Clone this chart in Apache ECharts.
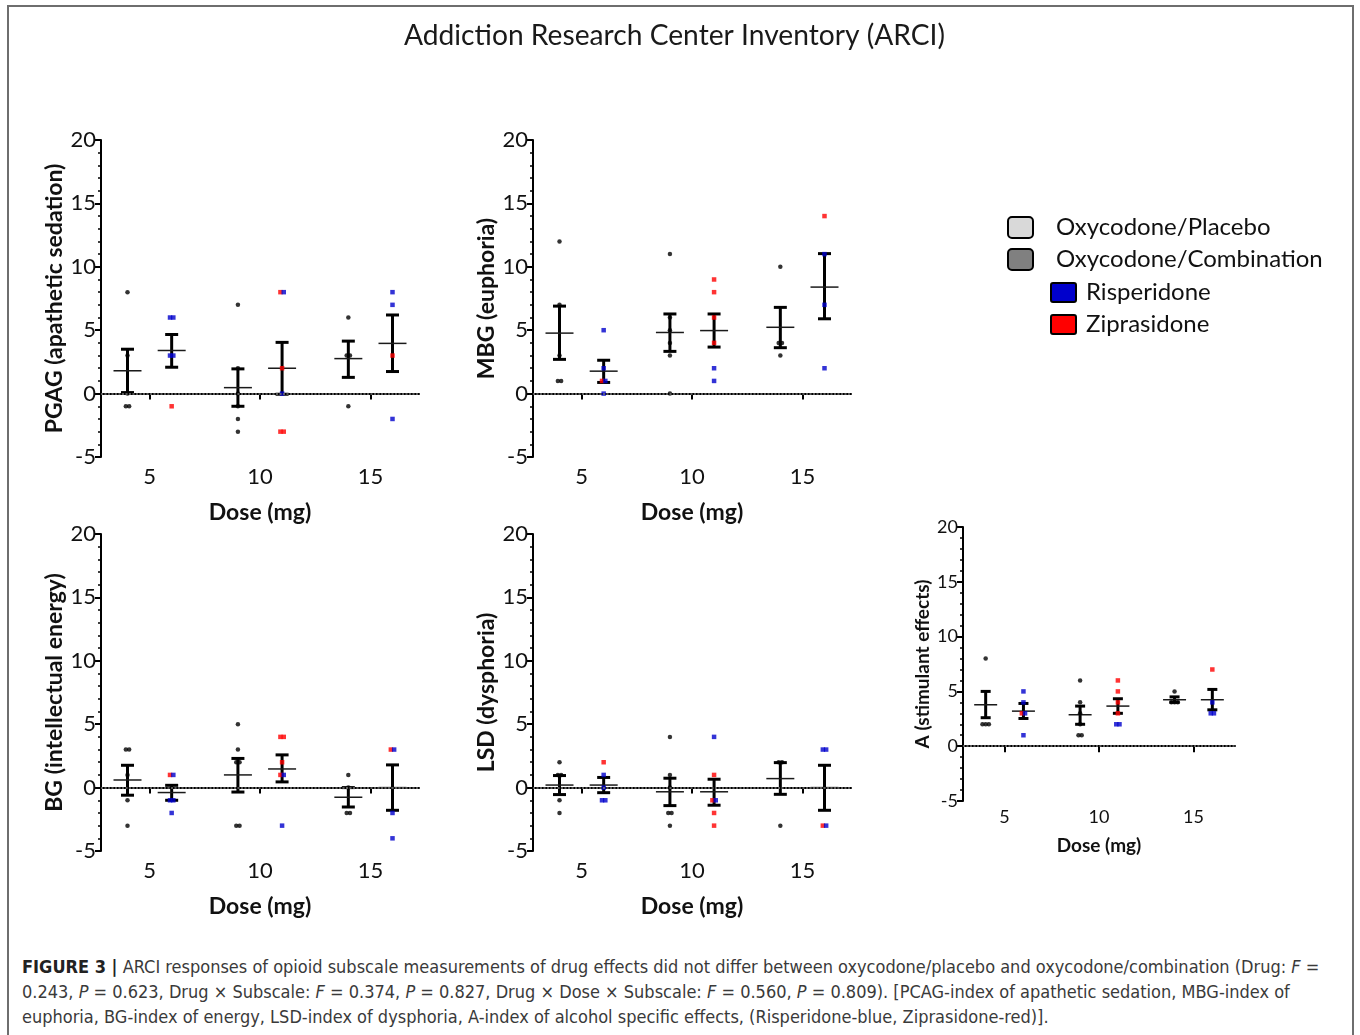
<!DOCTYPE html>
<html>
<head>
<meta charset="utf-8">
<script src="https://cdn.jsdelivr.net/npm/echarts@6/dist/echarts.min.js"></script>
<style>
  html, body { margin: 0; padding: 0; background: #fff; }
  #wrap { position: relative; width: 1360px; height: 1035px; overflow: hidden; }
  #frame { position: absolute; left: 7px; top: 5px; width: 1347px; height: 1100px; border: 2px solid #6e6e6e; box-sizing: border-box; }
  #chart { position: absolute; left: 0; top: 0; width: 1360px; height: 945px; }
  #caption {
    position: absolute; left: 22px; top: 954px; white-space: nowrap;
    font-family: "Liberation Sans Narrow", "DejaVu Sans Condensed", "Liberation Sans", sans-serif;
    font-size: 18px; line-height: 25px; color: #3a3a3a;
  }
  #caption b { color: #222; }
</style>
</head>
<body>
<div id="wrap">
  <div id="frame"></div>
  <div id="chart"></div>
  <div id="caption"><b>FIGURE 3 |</b> ARCI responses of opioid subscale measurements of drug effects did not differ between oxycodone/placebo and oxycodone/combination (Drug: <i>F</i> =<br>0.243, <i>P</i> = 0.623, Drug × Subscale: <i>F</i> = 0.374, <i>P</i> = 0.827, Drug × Dose × Subscale: <i>F</i> = 0.560, <i>P</i> = 0.809). [PCAG-index of apathetic sedation, MBG-index of<br>euphoria, BG-index of energy, LSD-index of dysphoria, A-index of alcohol specific effects, (Risperidone-blue, Ziprasidone-red)].</div>
</div>
<script>
// Doses sur l'axe x ; placebo à dose-1, combinaison à dose+1
const doses = [5, 10, 15];

// Points individuels : un tableau par dose
const pgagPlacebo = [[8, 3, 0, -1, -1], [7, 2, 0, -1, -2, -3], [6, 3, 3, -1]];
const pgagRisp = [[6, 6, 3, 3], [8, 0], [8, 7, -2]];
const pgagZip = [[-1], [8, 2, -3, -3], [3]];
// [bas, moyenne, haut] : placebo 5, combinaison 5, placebo 10, ...
const pgagBars = [[0.08, 1.8, 3.5], [2.08, 3.4, 4.66], [-1.0, 0.47, 1.95], [-0.05, 2.0, 4.04], [1.28, 2.76, 4.14], [1.74, 3.96, 6.2]];

const mbgPlacebo = [[12, 7, 3, 1, 1], [11, 6, 5, 4, 3, 0], [10, 4, 4, 3]];
const mbgRisp = [[5, 2, 1, 0], [2, 1], [11, 7, 2]];
const mbgZip = [[1], [9, 8, 6, 4], [14]];
const mbgBars = [[2.7, 4.77, 6.9], [0.88, 1.77, 2.63], [3.33, 4.82, 6.28], [3.67, 4.97, 6.28], [3.62, 5.23, 6.8], [5.9, 8.4, 11.04]];

const bgPlacebo = [[3, 3, 1, -1, -3], [5, 3, 2, 2, -3, -3], [1, 0, -2, -2]];
const bgRisp = [[1, -1, -1, -2], [1, -3], [3, -2, -4]];
const bgZip = [[1], [4, 4, 2, 1], [3]];
const bgBars = [[-0.6, 0.6, 1.76], [-1.0, -0.39, 0.18], [-0.35, 1.0, 2.3], [0.45, 1.47, 2.58], [-1.53, -0.76, 0], [-1.79, 0, 1.79]];

const lsdPlacebo = [[2, 1, 1, -1, -2], [4, 1, 0, -2, -2, -3], [2, 2, -3]];
const lsdRisp = [[1, 0, -1, -1], [4, -1], [3, 3, -3]];
const lsdZip = [[2], [1, -1, -2, -3], [-3]];
const lsdBars = [[-0.55, 0.2, 0.95], [-0.4, 0.2, 0.8], [-1.42, -0.33, 0.74], [-1.39, -0.33, 0.66], [-0.53, 0.71, 1.97], [-1.79, 0, 1.76]];

const aPlacebo = [[8, 2, 2, 2], [6, 4, 3, 2, 1, 1], [5, 4, 4, 4]];
const aRisp = [[5, 4, 3, 1], [2, 2], [4, 3, 3]];
const aZip = [[3], [6, 5, 4, 3], [7]];
const aBars = [[2.6, 3.78, 5.0], [2.53, 3.2, 3.9], [2.0, 2.87, 3.66], [3.0, 3.66, 4.33], [4.0, 4.24, 4.5], [3.32, 4.24, 5.18]];

const yTicks = [-5, 0, 5, 10, 15, 20];

const BLUE = '#0000cc';
const RED = '#ff0000';
const FONT = 'Lato';

// Mise en page des cinq panneaux
const panels = [
  { name: 'PGAG (apathetic sedation)', placebo: pgagPlacebo, risp: pgagRisp, zip: pgagZip, bars: pgagBars,
    grid: { left: 101, top: 140, width: 318, height: 317 }, small: false },
  { name: 'MBG (euphoria)', placebo: mbgPlacebo, risp: mbgRisp, zip: mbgZip, bars: mbgBars,
    grid: { left: 533, top: 140, width: 318, height: 317 }, small: false },
  { name: 'BG (intellectual energy)', placebo: bgPlacebo, risp: bgRisp, zip: bgZip, bars: bgBars,
    grid: { left: 101, top: 534, width: 318, height: 317 }, small: false },
  { name: 'LSD (dysphoria)', placebo: lsdPlacebo, risp: lsdRisp, zip: lsdZip, bars: lsdBars,
    grid: { left: 533, top: 534, width: 318, height: 317 }, small: false },
  { name: 'A (stimulant effects)', placebo: aPlacebo, risp: aRisp, zip: aZip, bars: aBars,
    grid: { left: 963, top: 527, width: 272, height: 274 }, small: true }
];

// Écarte légèrement les points de même valeur (comme le nuage de la figure)
function spread(groups, side, step) {
  const out = [];
  groups.forEach((grp, i) => {
    const x0 = doses[i] + side;
    const counts = {};
    grp.forEach(p => { counts[p.v] = (counts[p.v] || 0) + 1; });
    const seen = {};
    grp.forEach(p => {
      const n = counts[p.v];
      const k = seen[p.v] = (seen[p.v] || 0) + 1;
      out.push({ value: [x0 + (k - 1 - (n - 1) / 2) * step, p.v], itemStyle: { color: p.c } });
    });
  });
  return out;
}

function errorBar(capW, meanW) {
  return function (params, api) {
    const x = api.value(0);
    const lo = api.coord([x, api.value(1)]);
    const mid = api.coord([x, api.value(2)]);
    const hi = api.coord([x, api.value(3)]);
    const thick = { stroke: '#000', lineWidth: 3 };
    return {
      type: 'group',
      children: [
        { type: 'line', shape: { x1: lo[0], y1: lo[1], x2: hi[0], y2: hi[1] }, style: thick },
        { type: 'line', shape: { x1: lo[0] - capW / 2, y1: lo[1], x2: lo[0] + capW / 2, y2: lo[1] }, style: thick },
        { type: 'line', shape: { x1: hi[0] - capW / 2, y1: hi[1], x2: hi[0] + capW / 2, y2: hi[1] }, style: thick },
        { type: 'line', shape: { x1: mid[0] - meanW / 2, y1: mid[1], x2: mid[0] + meanW / 2, y2: mid[1] }, style: { stroke: '#1a1a1a', lineWidth: 1.5 } }
      ]
    };
  };
}

const grids = [], xAxes = [], yAxes = [], series = [];

panels.forEach((p, i) => {
  const s = p.small;
  grids.push(p.grid);
  xAxes.push({
    gridIndex: i, type: 'value', min: 2.8, max: 17.2,
    name: 'Dose (mg)', nameLocation: 'middle', nameGap: s ? 35 : 44,
    nameTextStyle: { fontFamily: FONT, fontWeight: 'bold', fontSize: s ? 19 : 23, color: '#111' },
    axisLine: { lineStyle: { color: '#000', width: 2 } },
    axisTick: { show: true, length: 6, lineStyle: { color: '#000', width: 2 }, customValues: doses },
    axisLabel: { fontFamily: FONT, fontSize: s ? 18 : 22, color: '#111', margin: s ? 7 : 9, customValues: doses },
    splitLine: { show: false }
  });
  yAxes.push({
    gridIndex: i, type: 'value', min: -5, max: 20, interval: 5,
    name: p.name, nameLocation: 'middle', nameGap: s ? 31 : 35,
    nameTextStyle: { fontFamily: FONT, fontWeight: 'bold', fontSize: s ? 19 : 23, color: '#111' },
    axisLine: { show: true, lineStyle: { color: '#000', width: 2 } },
    axisTick: { show: true, length: 6, lineStyle: { color: '#000', width: 2 } },
    minorTick: { show: true, splitNumber: 5, length: 3, lineStyle: { color: '#000', width: 1.5 } },
    axisLabel: { fontFamily: FONT, fontSize: s ? 18 : 22, color: '#111', margin: 5, customValues: yTicks },
    splitLine: { show: false }
  });

  const placeboPts = p.placebo.map(g => g.map(v => ({ v, c: '#000' })));
  const comboPts = p.zip.map((g, k) => g.map(v => ({ v, c: RED })).concat(p.risp[k].map(v => ({ v, c: BLUE }))));
  const step = s ? 0.17 : 0.15;

  series.push({
    type: 'custom', xAxisIndex: i, yAxisIndex: i, z: 3, silent: true,
    renderItem: errorBar(s ? 10 : 13, s ? 23 : 28),
    encode: { x: 0, y: [1, 2, 3] },
    data: p.bars.map((b, k) => [doses[Math.floor(k / 2)] + (k % 2 ? 1 : -1), b[0], b[1], b[2]]),
    markLine: {
      silent: true, symbol: 'none', label: { show: false },
      lineStyle: { color: '#777', type: [2, 1.5], width: 1.5 },
      data: [{ yAxis: 0 }]
    }
  });
  series.push({
    type: 'scatter', xAxisIndex: i, yAxisIndex: i, z: 4, silent: true,
    symbol: 'circle', symbolSize: 4.5,
    data: spread(placeboPts, -1, step)
  });
  series.push({
    type: 'scatter', xAxisIndex: i, yAxisIndex: i, z: 4, silent: true,
    symbol: 'rect', symbolSize: 4.5,
    data: spread(comboPts, 1, step)
  });
});

// Légende dessinée à la main (retraits différents selon les lignes)
const legendRows = [
  { label: 'Oxycodone/Placebo', fill: '#d9d9d9', x: 1007, y: 216, w: 25, h: 21, tx: 1056, r: 4 },
  { label: 'Oxycodone/Combination', fill: '#808080', x: 1007, y: 248, w: 25, h: 21, tx: 1056, r: 4 },
  { label: 'Risperidone', fill: BLUE, x: 1050, y: 282, w: 25, h: 19, tx: 1086, r: 2 },
  { label: 'Ziprasidone', fill: RED, x: 1050, y: 314, w: 25, h: 19, tx: 1086, r: 2 }
];
const graphic = [];
legendRows.forEach(r => {
  graphic.push({ type: 'rect', left: r.x, top: r.y, shape: { width: r.w, height: r.h, r: r.r },
    style: { fill: r.fill, stroke: '#000', lineWidth: 2 } });
  graphic.push({ type: 'text', left: r.tx, top: r.y + r.h / 2 - 11,
    style: { text: r.label, fontFamily: FONT, fontSize: 24, fill: '#111' } });
});

const chart = echarts.init(document.getElementById('chart'));
chart.setOption({
  animation: false,
  title: {
    text: 'Addiction Research Center Inventory (ARCI)', left: 399, top: 17,
    textStyle: { fontFamily: FONT, fontWeight: 'normal', fontSize: 28.2, color: '#1a1a1a' }
  },
  grid: grids,
  xAxis: xAxes,
  yAxis: yAxes,
  series: series,
  graphic: graphic
});
</script>
</body>
</html>
